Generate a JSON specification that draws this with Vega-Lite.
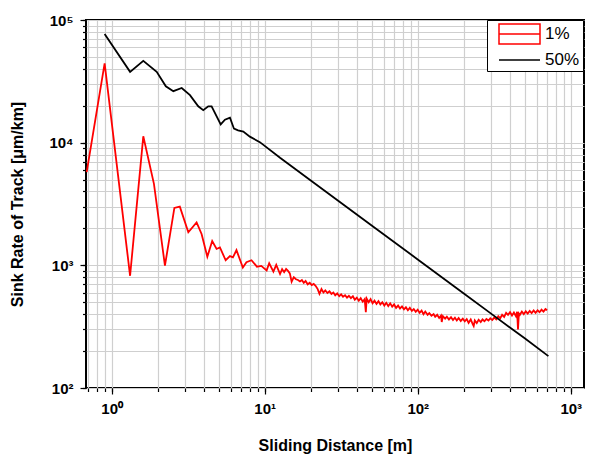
{
  "$schema": "https://vega.github.io/schema/vega-lite/v6.json",
  "autosize": {"type": "none"},
  "width": 498,
  "height": 368,
  "padding": {"left": 86, "top": 20, "right": 7, "bottom": 71},
  "background": "white",
  "config": {
    "view": {"stroke": "black", "strokeWidth": 2},
    "axis": {
      "labelFont": "Liberation Sans", "titleFont": "Liberation Sans",
      "labelFontWeight": "bold", "titleFontWeight": "bold",
      "labelFontSize": 15, "titleFontSize": 16,
      "labelColor": "black", "titleColor": "black",
      "tickColor": "black", "tickWidth": 1.2,
      "gridColor": "#cfcfcf", "gridWidth": 1.2, "gridOpacity": 1,
      "domain": false
    },
    "legend": {"labelFont": "Liberation Sans", "labelFontSize": 17, "labelColor": "black"}
  },
  "datasets": {
    "curves": [
      {"s": "1%", "x": 0.687, "y": 5760},
      {"s": "1%", "x": 0.90, "y": 44300},
      {"s": "1%", "x": 1.32, "y": 822},
      {"s": "1%", "x": 1.61, "y": 11270},
      {"s": "1%", "x": 1.89, "y": 4620},
      {"s": "1%", "x": 2.23, "y": 993},
      {"s": "1%", "x": 2.57, "y": 2940},
      {"s": "1%", "x": 2.79, "y": 3010},
      {"s": "1%", "x": 3.17, "y": 1860},
      {"s": "1%", "x": 3.59, "y": 2240},
      {"s": "1%", "x": 3.87, "y": 1800},
      {"s": "1%", "x": 4.22, "y": 1175},
      {"s": "1%", "x": 4.54, "y": 1580},
      {"s": "1%", "x": 4.85, "y": 1360},
      {"s": "1%", "x": 5.1, "y": 1400},
      {"s": "1%", "x": 5.56, "y": 1100},
      {"s": "1%", "x": 5.93, "y": 1190},
      {"s": "1%", "x": 6.2, "y": 1160},
      {"s": "1%", "x": 6.54, "y": 1330},
      {"s": "1%", "x": 7.2, "y": 960},
      {"s": "1%", "x": 7.6, "y": 1060},
      {"s": "1%", "x": 8.2, "y": 1100},
      {"s": "1%", "x": 8.9, "y": 975},
      {"s": "1%", "x": 9.5, "y": 990},
      {"s": "1%", "x": 10.3, "y": 910},
      {"s": "1%", "x": 10.7, "y": 1040},
      {"s": "1%", "x": 11.4, "y": 890},
      {"s": "1%", "x": 11.9, "y": 1010},
      {"s": "1%", "x": 12.6, "y": 850},
      {"s": "1%", "x": 13.0, "y": 930},
      {"s": "1%", "x": 13.4, "y": 880},
      {"s": "1%", "x": 13.8, "y": 935},
      {"s": "1%", "x": 14.2, "y": 900},
      {"s": "1%", "x": 14.6, "y": 860},
      {"s": "1%", "x": 15.0, "y": 735},
      {"s": "1%", "x": 15.5, "y": 800},
      {"s": "1%", "x": 16.0, "y": 770},
      {"s": "1%", "x": 16.5, "y": 760},
      {"s": "1%", "x": 17.0, "y": 740},
      {"s": "1%", "x": 17.5, "y": 760},
      {"s": "1%", "x": 18.0, "y": 720},
      {"s": "1%", "x": 18.5, "y": 745},
      {"s": "1%", "x": 19.1, "y": 700},
      {"s": "1%", "x": 19.7, "y": 720},
      {"s": "1%", "x": 20.3, "y": 690},
      {"s": "1%", "x": 20.9, "y": 705},
      {"s": "1%", "x": 21.5, "y": 680},
      {"s": "1%", "x": 22.2, "y": 640},
      {"s": "1%", "x": 22.8, "y": 585},
      {"s": "1%", "x": 23.5, "y": 640},
      {"s": "1%", "x": 24.2, "y": 600},
      {"s": "1%", "x": 24.9, "y": 625},
      {"s": "1%", "x": 25.7, "y": 595},
      {"s": "1%", "x": 26.5, "y": 615},
      {"s": "1%", "x": 27.3, "y": 585},
      {"s": "1%", "x": 28.1, "y": 600},
      {"s": "1%", "x": 28.9, "y": 570},
      {"s": "1%", "x": 29.8, "y": 590},
      {"s": "1%", "x": 30.7, "y": 560},
      {"s": "1%", "x": 31.6, "y": 580},
      {"s": "1%", "x": 32.5, "y": 555},
      {"s": "1%", "x": 33.5, "y": 570},
      {"s": "1%", "x": 34.5, "y": 545},
      {"s": "1%", "x": 35.5, "y": 565},
      {"s": "1%", "x": 36.6, "y": 540},
      {"s": "1%", "x": 37.7, "y": 560},
      {"s": "1%", "x": 38.8, "y": 525},
      {"s": "1%", "x": 40.0, "y": 545},
      {"s": "1%", "x": 41.2, "y": 515},
      {"s": "1%", "x": 42.4, "y": 540},
      {"s": "1%", "x": 43.7, "y": 505},
      {"s": "1%", "x": 45.0, "y": 530},
      {"s": "1%", "x": 45.8, "y": 415},
      {"s": "1%", "x": 46.4, "y": 535},
      {"s": "1%", "x": 47.8, "y": 500},
      {"s": "1%", "x": 49.2, "y": 530},
      {"s": "1%", "x": 50.7, "y": 490},
      {"s": "1%", "x": 52.2, "y": 515},
      {"s": "1%", "x": 53.8, "y": 485},
      {"s": "1%", "x": 55.4, "y": 510},
      {"s": "1%", "x": 57.0, "y": 480},
      {"s": "1%", "x": 58.7, "y": 500},
      {"s": "1%", "x": 60.5, "y": 470},
      {"s": "1%", "x": 62.3, "y": 495},
      {"s": "1%", "x": 64.2, "y": 465},
      {"s": "1%", "x": 66.1, "y": 490},
      {"s": "1%", "x": 68.1, "y": 460},
      {"s": "1%", "x": 70.1, "y": 480},
      {"s": "1%", "x": 72.2, "y": 450},
      {"s": "1%", "x": 74.4, "y": 470},
      {"s": "1%", "x": 76.6, "y": 445},
      {"s": "1%", "x": 78.9, "y": 462},
      {"s": "1%", "x": 81.3, "y": 438},
      {"s": "1%", "x": 83.7, "y": 455},
      {"s": "1%", "x": 86.2, "y": 430},
      {"s": "1%", "x": 88.8, "y": 450},
      {"s": "1%", "x": 91.5, "y": 425},
      {"s": "1%", "x": 94.2, "y": 440},
      {"s": "1%", "x": 97.0, "y": 418},
      {"s": "1%", "x": 99.9, "y": 435},
      {"s": "1%", "x": 102.9, "y": 410},
      {"s": "1%", "x": 106, "y": 428},
      {"s": "1%", "x": 109, "y": 400},
      {"s": "1%", "x": 112, "y": 420},
      {"s": "1%", "x": 116, "y": 395},
      {"s": "1%", "x": 119, "y": 408},
      {"s": "1%", "x": 123, "y": 388},
      {"s": "1%", "x": 127, "y": 400},
      {"s": "1%", "x": 130, "y": 380},
      {"s": "1%", "x": 134, "y": 395},
      {"s": "1%", "x": 138, "y": 372},
      {"s": "1%", "x": 142, "y": 390},
      {"s": "1%", "x": 143.5, "y": 345},
      {"s": "1%", "x": 146, "y": 385},
      {"s": "1%", "x": 151, "y": 368},
      {"s": "1%", "x": 155, "y": 382},
      {"s": "1%", "x": 160, "y": 362},
      {"s": "1%", "x": 165, "y": 378},
      {"s": "1%", "x": 170, "y": 358},
      {"s": "1%", "x": 175, "y": 374},
      {"s": "1%", "x": 180, "y": 355},
      {"s": "1%", "x": 185, "y": 372},
      {"s": "1%", "x": 191, "y": 352},
      {"s": "1%", "x": 197, "y": 368},
      {"s": "1%", "x": 203, "y": 350},
      {"s": "1%", "x": 209, "y": 365},
      {"s": "1%", "x": 215, "y": 340},
      {"s": "1%", "x": 222, "y": 362},
      {"s": "1%", "x": 229, "y": 330},
      {"s": "1%", "x": 232, "y": 320},
      {"s": "1%", "x": 236, "y": 355},
      {"s": "1%", "x": 243, "y": 338},
      {"s": "1%", "x": 250, "y": 360},
      {"s": "1%", "x": 258, "y": 345},
      {"s": "1%", "x": 265, "y": 362},
      {"s": "1%", "x": 273, "y": 350},
      {"s": "1%", "x": 281, "y": 365},
      {"s": "1%", "x": 290, "y": 355},
      {"s": "1%", "x": 298, "y": 370},
      {"s": "1%", "x": 307, "y": 358},
      {"s": "1%", "x": 316, "y": 375},
      {"s": "1%", "x": 326, "y": 362},
      {"s": "1%", "x": 336, "y": 385},
      {"s": "1%", "x": 346, "y": 370},
      {"s": "1%", "x": 356, "y": 395},
      {"s": "1%", "x": 367, "y": 380},
      {"s": "1%", "x": 378, "y": 410},
      {"s": "1%", "x": 389, "y": 395},
      {"s": "1%", "x": 401, "y": 415},
      {"s": "1%", "x": 413, "y": 390},
      {"s": "1%", "x": 425, "y": 412},
      {"s": "1%", "x": 438, "y": 385},
      {"s": "1%", "x": 446, "y": 418},
      {"s": "1%", "x": 452, "y": 300},
      {"s": "1%", "x": 458, "y": 405},
      {"s": "1%", "x": 465, "y": 395},
      {"s": "1%", "x": 479, "y": 420},
      {"s": "1%", "x": 493, "y": 400},
      {"s": "1%", "x": 508, "y": 422},
      {"s": "1%", "x": 523, "y": 405},
      {"s": "1%", "x": 539, "y": 425},
      {"s": "1%", "x": 555, "y": 408},
      {"s": "1%", "x": 572, "y": 428},
      {"s": "1%", "x": 589, "y": 410},
      {"s": "1%", "x": 607, "y": 430},
      {"s": "1%", "x": 625, "y": 415},
      {"s": "1%", "x": 644, "y": 435},
      {"s": "1%", "x": 663, "y": 420},
      {"s": "1%", "x": 683, "y": 440},
      {"s": "1%", "x": 700, "y": 430},
      {"s": "50%", "x": 0.90, "y": 77000},
      {"s": "50%", "x": 1.32, "y": 37800},
      {"s": "50%", "x": 1.61, "y": 46400},
      {"s": "50%", "x": 1.97, "y": 37800},
      {"s": "50%", "x": 2.26, "y": 28800},
      {"s": "50%", "x": 2.53, "y": 26300},
      {"s": "50%", "x": 2.87, "y": 27900},
      {"s": "50%", "x": 3.25, "y": 24400},
      {"s": "50%", "x": 3.68, "y": 19800},
      {"s": "50%", "x": 3.97, "y": 18400},
      {"s": "50%", "x": 4.28, "y": 19800},
      {"s": "50%", "x": 4.50, "y": 19800},
      {"s": "50%", "x": 5.16, "y": 14100},
      {"s": "50%", "x": 5.50, "y": 15400},
      {"s": "50%", "x": 5.93, "y": 16000},
      {"s": "50%", "x": 6.3, "y": 13000},
      {"s": "50%", "x": 6.7, "y": 12600},
      {"s": "50%", "x": 7.25, "y": 12300},
      {"s": "50%", "x": 8.0, "y": 11200},
      {"s": "50%", "x": 9.3, "y": 10100},
      {"s": "50%", "x": 12.6, "y": 7530},
      {"s": "50%", "x": 20, "y": 4920},
      {"s": "50%", "x": 50, "y": 2115},
      {"s": "50%", "x": 100, "y": 1117},
      {"s": "50%", "x": 200, "y": 590},
      {"s": "50%", "x": 300, "y": 406},
      {"s": "50%", "x": 500, "y": 254},
      {"s": "50%", "x": 714, "y": 182}
    ]
  },
  "data": {"name": "curves"},
  "resolve": {"axis": {"x": "independent", "y": "independent"}},
  "layer": [
    {
      "mark": {"type": "line", "opacity": 0},
      "encoding": {
        "x": {
          "field": "x", "type": "quantitative",
          "scale": {"type": "log", "domain": [0.68, 1220], "nice": false},
          "axis": {
            "orient": "bottom", "title": null, "labels": false, "grid": true, "tickSize": 3.5,
            "values": [0.7, 0.8, 0.9, 1, 2, 3, 4, 5, 6, 7, 8, 9, 10, 20, 30, 40, 50, 60, 70, 80, 90, 100, 200, 300, 400, 500, 600, 700, 800, 900, 1000]
          }
        },
        "y": {
          "field": "y", "type": "quantitative",
          "scale": {"type": "log", "domain": [100, 100000], "nice": false},
          "axis": {
            "orient": "left", "title": null, "labels": false, "grid": true, "tickSize": 3.5,
            "values": [100, 200, 300, 400, 500, 600, 700, 800, 900, 1000, 2000, 3000, 4000, 5000, 6000, 7000, 8000, 9000, 10000, 20000, 30000, 40000, 50000, 60000, 70000, 80000, 90000, 100000]
          }
        }
      }
    },
    {
      "mark": {"type": "line", "strokeWidth": 1.8},
      "encoding": {
        "x": {
          "field": "x", "type": "quantitative",
          "scale": {"type": "log", "domain": [0.68, 1220], "nice": false},
          "axis": {
            "orient": "bottom", "title": "Sliding Distance [m]", "grid": false, "tickSize": 6,
            "values": [1, 10, 100, 1000], "labelPadding": 7,
            "labelExpr": "'10' + (datum.value == 1 ? '⁰' : datum.value == 10 ? '¹' : datum.value == 100 ? '²' : '³')",
            "titleX": 249, "titleY": 57, "titleBaseline": "middle"
          }
        },
        "y": {
          "field": "y", "type": "quantitative",
          "scale": {"type": "log", "domain": [100, 100000], "nice": false},
          "axis": {
            "orient": "left", "title": "Sink Rate of Track [μm/km]", "grid": false, "tickSize": 6,
            "values": [100, 1000, 10000, 100000], "labelPadding": 7,
            "labelExpr": "'10' + (datum.value == 100 ? '²' : datum.value == 1000 ? '³' : datum.value == 10000 ? '⁴' : '⁵')",
            "titleX": -69, "titleY": 184, "titleBaseline": "middle", "titleAngle": -90
          }
        },
        "color": {
          "field": "s", "type": "nominal",
          "scale": {"domain": ["1%", "50%"], "range": ["#ff0000", "#000000"]},
          "legend": {
            "title": null, "orient": "none", "legendX": 401, "legendY": 0,
            "strokeColor": "black", "fillColor": "white", "padding": 3,
            "symbolSize": 400, "symbolStrokeWidth": 1.5, "labelOffset": 33, "rowPadding": 2,
            "encode": {
              "symbols": {"update": {
                "shape": {"signal": "datum.value === '1%' ? 'M-0.2,-1H3.9V1H-0.2Z M-0.2,0H3.9' : 'M-0.2,0H3.9'"},
                "fill": {"value": "transparent"}
              }}
            }
          }
        }
      }
    }
  ]
}
